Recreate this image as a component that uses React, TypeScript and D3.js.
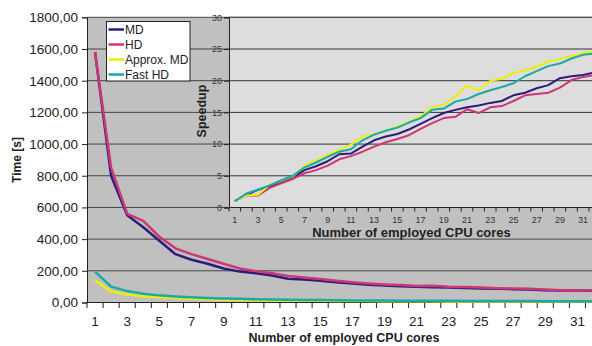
import React, { useEffect, useRef } from 'react';
import * as d3 from 'd3';

const W = 592
const H = 346

const cores = d3.range(1, 33)
const tickCores = cores.filter(c => c % 2 === 1)
const timeTicks = [0, 200, 400, 600, 800, 1000, 1200, 1400, 1600, 1800]
const speedTicks = [0, 5, 10, 15, 20, 25, 30]

// Time [s] per number of cores
const timeMD = [1580, 800, 550, 475, 390, 305, 270, 245, 215, 195, 185, 170, 150, 145, 138, 128, 120, 112, 108, 103, 100, 97, 95, 92, 89, 87, 84, 82, 78, 76, 75, 74]
const timeHD = [1580, 850, 560, 515, 415, 342, 305, 275, 245, 215, 198, 185, 168, 158, 148, 138, 128, 120, 114, 110, 104, 105, 100, 98, 94, 90, 88, 86, 82, 78, 76, 75]
const timeApprox = [140, 70, 50, 40, 33, 28, 24, 21, 18, 16, 14, 13, 12, 11, 10.5, 10, 9.5, 9, 8.5, 8, 7.5, 7.5, 7, 7, 6.8, 6.5, 6.3, 6.2, 6, 5.8, 5.7, 5.6]
const timeFast = [195, 100, 72, 55, 45, 38, 33, 28, 25, 23, 21, 19, 17, 16, 15, 14, 13, 12.5, 12, 11.5, 11, 11, 10.5, 10, 10, 9.5, 9, 9, 8.5, 8.5, 8, 8]

// Speedup per number of cores
const speedMD = [1, 2, 2.8, 3.3, 4.0, 4.7, 5.9, 6.5, 7.3, 8.4, 8.5, 9.6, 10.6, 11.2, 11.6, 12.3, 13.2, 14.1, 14.9, 15.4, 15.8, 16.1, 16.5, 16.8, 17.7, 18.1, 18.8, 19.3, 20.4, 20.7, 20.9, 21.3]
const speedHD = [1, 1.9, 1.9, 3.1, 3.8, 4.5, 5.4, 5.9, 6.6, 7.6, 8.1, 8.8, 9.6, 10.3, 10.8, 11.4, 12.4, 13.3, 14.1, 14.3, 15.5, 14.9, 15.8, 16.0, 16.8, 17.7, 17.9, 18.1, 18.9, 20.1, 20.6, 20.9]
const speedApprox = [1, 1.9, 2.0, 3.6, 4.2, 4.9, 6.6, 7.4, 8.3, 9.1, 9.9, 11.2, 11.6, 12.0, 12.8, 13.5, 14.4, 15.8, 16.2, 17.5, 19.2, 18.5, 20.0, 20.3, 21.2, 21.7, 22.2, 23.0, 23.4, 23.9, 24.3, 24.6]
const speedFast = [1, 2.2, 2.8, 3.5, 4.3, 5.0, 6.3, 7.1, 8.0, 8.8, 9.2, 10.6, 11.5, 12.1, 12.6, 13.4, 14.1, 15.4, 15.6, 16.7, 17.1, 17.9, 18.5, 19.0, 19.6, 20.7, 21.5, 22.3, 22.7, 23.5, 24.1, 24.3]

const seriesNames = ['MD', 'HD', 'Approx. MD', 'Fast HD']
const colors = ['#2f1b7c', '#cc3775', '#eeee00', '#19a9a9']
const timeSeries = [timeMD, timeHD, timeApprox, timeFast]
const speedSeries = [speedMD, speedHD, speedApprox, speedFast]

const FONT = '"Liberation Sans", Arial, sans-serif'

const App = () => {
  const ref = useRef(null)

  useEffect(() => {
    const svg = d3.select(ref.current)
    svg.selectAll('*').remove()

    // ---------- main chart ----------
    const x = d3.scaleBand().domain(cores.map(String)).range([87, 87 + 32 * 16.08])
    const y = d3.scaleLinear().domain([0, 1800]).range([302.5, 17.3])
    const cx = c => x(String(c)) + x.bandwidth() / 2

    svg.append('rect')
      .attr('x', 87).attr('y', 17.3)
      .attr('width', W - 87).attr('height', 302.5 - 17.3)
      .attr('fill', '#c0c0c0')

    svg.append('g')
      .selectAll('line')
      .data(timeTicks.slice(1))
      .enter()
      .append('line')
      .attr('x1', 87).attr('x2', W)
      .attr('y1', d => y(d)).attr('y2', d => y(d))
      .attr('stroke', '#444').attr('stroke-width', 1)

    const yAxis = d3.axisLeft(y).tickValues(timeTicks).tickSize(5).tickPadding(4)
      .tickFormat(d => d3.format('.2f')(d).replace('.', ','))
    const gy = svg.append('g').attr('transform', 'translate(87,0)').call(yAxis)
    gy.select('.domain').attr('stroke', '#222')
    gy.selectAll('line').attr('stroke', '#222')
    gy.selectAll('text').attr('font-family', FONT).attr('font-size', 13.5).attr('fill', '#222')

    const xAxis = svg.append('g')
    xAxis.append('line')
      .attr('x1', 87).attr('x2', W).attr('y1', 302.5).attr('y2', 302.5)
      .attr('stroke', '#222')
    xAxis.selectAll('.tk')
      .data(cores)
      .enter()
      .append('line')
      .attr('x1', d => x(String(d))).attr('x2', d => x(String(d)))
      .attr('y1', 302.5).attr('y2', 308)
      .attr('stroke', '#222')
    xAxis.selectAll('text')
      .data(tickCores)
      .enter()
      .append('text')
      .attr('x', d => cx(d)).attr('y', 326)
      .attr('text-anchor', 'middle')
      .attr('font-family', FONT).attr('font-size', 13.5).attr('fill', '#222')
      .text(d => d)

    svg.append('text')
      .attr('x', 344).attr('y', 342)
      .attr('text-anchor', 'middle')
      .attr('font-family', FONT).attr('font-size', 12.5).attr('font-weight', 'bold').attr('fill', '#222')
      .text('Number of employed CPU cores')

    svg.append('text')
      .attr('transform', 'translate(21,160) rotate(-90)')
      .attr('text-anchor', 'middle')
      .attr('font-family', FONT).attr('font-size', 12).attr('font-weight', 'bold').attr('fill', '#222')
      .text('Time [s]')

    const line = d3.line().x((d, i) => cx(cores[i])).y(d => y(d))
    svg.append('g')
      .selectAll('path')
      .data(timeSeries)
      .enter()
      .append('path')
      .attr('d', d => line(d))
      .attr('fill', 'none')
      .attr('stroke', (d, i) => colors[i])
      .attr('stroke-width', 2.5)
      .attr('stroke-linejoin', 'round')

    // ---------- inset chart (speedup) ----------
    const ix = d3.scaleBand().domain(cores.map(String)).range([229, 229 + 32 * 11.61])
    const iy = d3.scaleLinear().domain([0, 30]).range([207.5, 17.3])
    const icx = c => ix(String(c)) + ix.bandwidth() / 2

    svg.append('rect')
      .attr('x', 229).attr('y', 17.3)
      .attr('width', W - 229).attr('height', 207.5 - 17.3)
      .attr('fill', '#dddddd')

    svg.append('g')
      .selectAll('line')
      .data(speedTicks.slice(1))
      .enter()
      .append('line')
      .attr('x1', 229).attr('x2', W)
      .attr('y1', d => iy(d)).attr('y2', d => iy(d))
      .attr('stroke', '#333').attr('stroke-width', 1)

    const iyAxis = d3.axisLeft(iy).tickValues(speedTicks).tickSize(5).tickPadding(2)
    const giy = svg.append('g').attr('transform', 'translate(229,0)').call(iyAxis)
    giy.select('.domain').attr('stroke', '#222')
    giy.selectAll('line').attr('stroke', '#222')
    giy.selectAll('text').attr('font-family', FONT).attr('font-size', 9).attr('fill', '#333')

    const ixAxis = svg.append('g')
    ixAxis.append('line')
      .attr('x1', 229).attr('x2', W).attr('y1', 207.5).attr('y2', 207.5)
      .attr('stroke', '#222')
    ixAxis.selectAll('.tk')
      .data(cores)
      .enter()
      .append('line')
      .attr('x1', d => ix(String(d))).attr('x2', d => ix(String(d)))
      .attr('y1', 207.5).attr('y2', 211.5)
      .attr('stroke', '#222')
    ixAxis.selectAll('text')
      .data(tickCores)
      .enter()
      .append('text')
      .attr('x', d => icx(d)).attr('y', 223)
      .attr('text-anchor', 'middle')
      .attr('font-family', FONT).attr('font-size', 9).attr('fill', '#333')
      .text(d => d)

    svg.append('text')
      .attr('x', 411.5).attr('y', 236.5)
      .attr('text-anchor', 'middle')
      .attr('font-family', FONT).attr('font-size', 13).attr('font-weight', 'bold').attr('fill', '#222')
      .text('Number of employed CPU cores')

    svg.append('text')
      .attr('transform', 'translate(205.5,111) rotate(-90)')
      .attr('text-anchor', 'middle')
      .attr('font-family', FONT).attr('font-size', 12.5).attr('font-weight', 'bold').attr('fill', '#222')
      .text('Speedup')

    const iline = d3.line().x((d, i) => icx(cores[i])).y(d => iy(d))
    svg.append('g')
      .selectAll('path')
      .data(speedSeries)
      .enter()
      .append('path')
      .attr('d', d => iline(d))
      .attr('fill', 'none')
      .attr('stroke', (d, i) => colors[i])
      .attr('stroke-width', 2)
      .attr('stroke-linejoin', 'round')

    // ---------- legend ----------
    const lg = svg.append('g').attr('transform', 'translate(106.5,21.5)')
    lg.append('rect')
      .attr('width', 83.5).attr('height', 59.5)
      .attr('fill', '#fff').attr('stroke', '#222')
    const item = lg.selectAll('.item')
      .data(seriesNames)
      .enter()
      .append('g')
      .attr('transform', (d, i) => `translate(0,${8 + i * 15})`)
    item.append('line')
      .attr('x1', 2).attr('x2', 17.5)
      .attr('stroke', (d, i) => colors[i]).attr('stroke-width', 2.5)
    item.append('text')
      .attr('x', 18.5).attr('y', 4.3)
      .attr('font-family', FONT).attr('font-size', 12).attr('fill', '#222')
      .text(d => d)
  }, [])

  return (
    <svg
      ref={ref}
      width={W}
      height={H}
      style={{ position: 'absolute', left: 0, top: 0, background: '#fff' }}
    ></svg>
  )
}

export default App
